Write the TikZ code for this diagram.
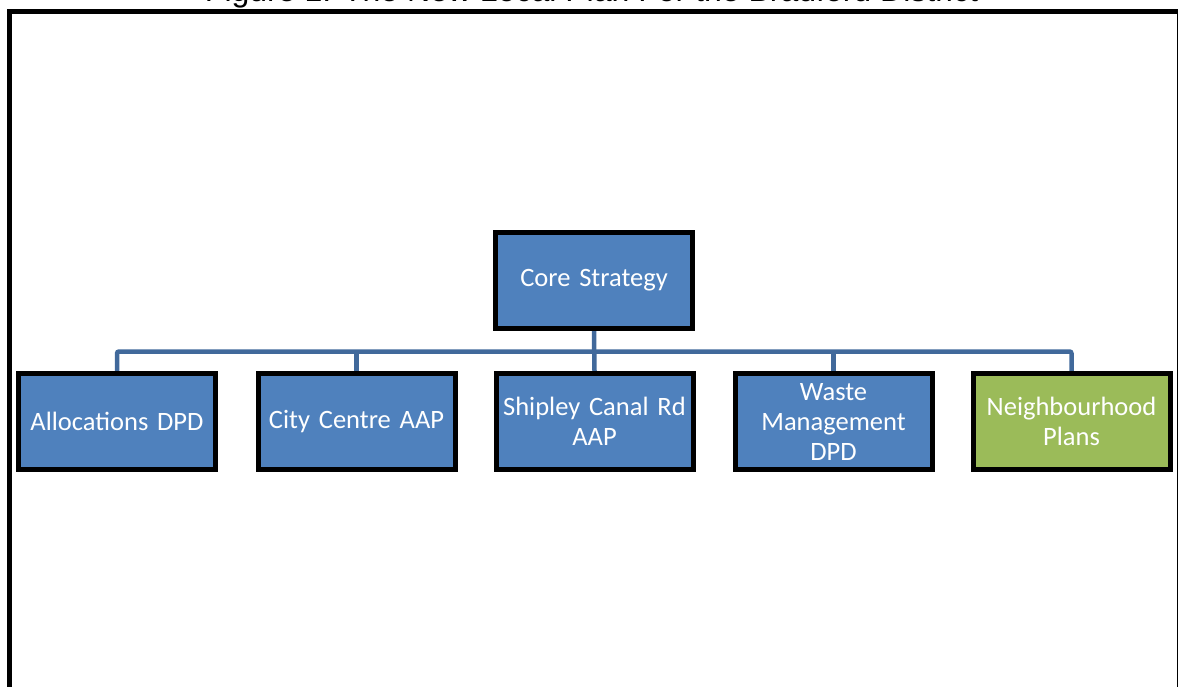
\documentclass[tikz,border=0pt]{standalone}
\usepackage{fontspec}
\setmainfont{Carlito}
\newfontfamily\titlefont{Liberation Sans}
\usetikzlibrary{backgrounds}
\definecolor{boxblue}{HTML}{4F81BD}
\definecolor{boxgreen}{HTML}{9BBB59}
\definecolor{linkblue}{HTML}{41699B}
\tikzset{
  orgbox/.style={draw=black, line width=5pt, fill=boxblue, text=white,
    minimum width=197pt, minimum height=96pt, inner sep=2pt,
    align=center, text width=190pt,
    font=\fontsize{26.5}{30}\selectfont},
  greenbox/.style={orgbox, fill=boxgreen},
  link/.style={draw=linkblue, line width=4.5pt, rounded corners=2pt},
}
\begin{document}
\begin{tikzpicture}[x=1pt,y=-1pt]
\useasboundingbox (0,0) rectangle (1178,686);
\clip (0,0) rectangle (1178,686);
% frame
\draw[line width=5pt] (9.5,700) -- (9.5,11.5) -- (1179.5,11.5) -- (1179.5,700);
% title
\node[anchor=base, inner sep=0pt, font=\titlefont\fontsize{32}{36}\selectfont] (title) at (591.5,1.5) {Figure 1: The New Local Plan For the Bradford District};
% nodes
\node[orgbox] (core) at (594,280.5) {Core Strategy};
\node[orgbox] (alloc) at (117,421.5) {Allocations DPD};
\node[orgbox] (city) at (356.5,421.5) {City Centre AAP};
\node[orgbox] (ship) at (594.5,421.5) {Shipley Canal Rd\\AAP};
\node[orgbox] (waste) at (833.5,421.5) {Waste\\Management\\DPD};
\node[greenbox] (neigh) at (1071.5,421.5) {Neighbourhood\\Plans};
% connectors
\coordinate (bus) at (0,351.5);
\begin{scope}[on background layer]
\draw[link] (core.south) -- (ship.north);
\draw[link] (alloc.north) |- (bus -| core.south) -| (neigh.north);
\draw[link] (city.north) -- (city.north |- bus);
\draw[link] (waste.north) -- (waste.north |- bus);
\end{scope}
\end{tikzpicture}
\end{document}
